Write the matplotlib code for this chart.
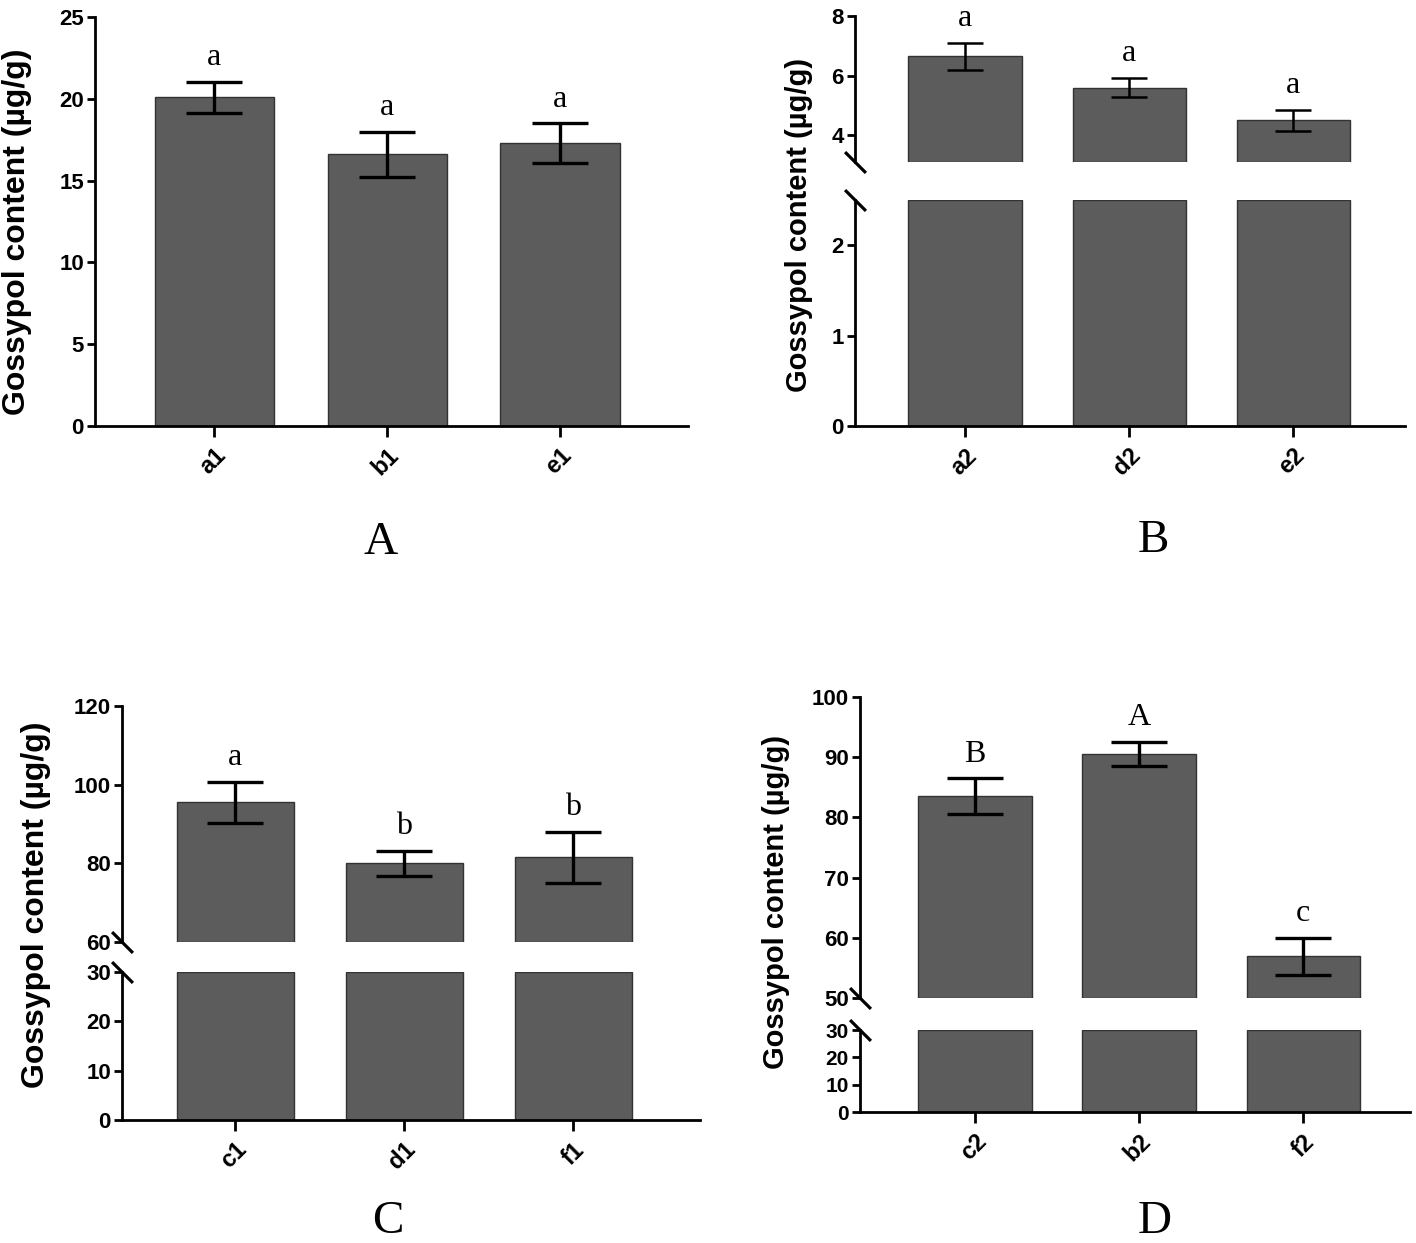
import matplotlib
matplotlib.use("Agg")
import matplotlib.pyplot as plt
import numpy as np

W, H = 1416, 1243

# ---------------- data ----------------
cats_A = ["a1", "b1", "e1"]
mean_A = [20.1, 16.6, 17.3]
sd_A = [0.95, 1.4, 1.2]
let_A = ["a", "a", "a"]

cats_B = ["a2", "d2", "e2"]
mean_B = [6.65, 5.6, 4.5]
sd_B = [0.45, 0.33, 0.35]
let_B = ["a", "a", "a"]

cats_C = ["c1", "d1", "f1"]
mean_C = [95.5, 80.0, 81.5]
sd_C = [5.2, 3.2, 6.5]
let_C = ["a", "b", "b"]

cats_D = ["c2", "b2", "f2"]
mean_D = [83.5, 90.6, 56.9]
sd_D = [3.0, 2.0, 3.1]
let_D = ["B", "A", "c"]

BAR = "#5c5c5c"
EDGE = "#333333"
SANS = "Liberation Sans"
SERIF = "Liberation Serif"

fig = plt.figure(figsize=(W / 100, H / 100), dpi=100)


def add_ax(x0, x1, y0, y1):
    return fig.add_axes([x0 / W, 1 - y1 / H, (x1 - x0) / W, (y1 - y0) / H])


def style(ax, bottom=True, ysize=16):
    for s in ["top", "right"]:
        ax.spines[s].set_visible(False)
    ax.spines["left"].set_linewidth(2.0)
    ax.spines["bottom"].set_linewidth(2.0)
    if not bottom:
        ax.spines["bottom"].set_visible(False)
        ax.tick_params(axis="x", bottom=False, labelbottom=False)
    ax.tick_params(axis="y", direction="out", length=6, width=2.0, pad=2,
                   labelsize=ysize)
    ax.tick_params(axis="x", direction="out", length=8, width=2.0, pad=5)
    for lab in ax.get_yticklabels():
        lab.set_fontfamily(SANS)
        lab.set_fontweight("bold")
    ax.set_facecolor("none")


def slash(ax, ypos):
    ax.plot([0], [ypos], transform=ax.transAxes, marker=[(-1, 1), (1, -1)],
            markersize=15, markeredgewidth=2.3, color="k", clip_on=False,
            linestyle="none")


def xlabels(ax, cats):
    x = np.arange(len(cats))
    ax.set_xticks(x)
    ax.set_xticklabels(cats, rotation=45, ha="right", rotation_mode="anchor",
                       fontfamily=SANS, fontweight="bold", fontsize=17)


def draw_errs(ax, means, sds, letters, cap, lw, fs):
    x = np.arange(len(means))
    ax.errorbar(x, means, yerr=sds, fmt="none", ecolor="k", elinewidth=lw,
                capsize=cap, capthick=lw, zorder=3)
    for xi, m, s, l in zip(x, means, sds, letters):
        ax.annotate(l, (xi, m + s), xytext=(0, 7), textcoords="offset points",
                    ha="center", va="bottom", fontfamily=SERIF, fontsize=fs)


def ylabel(xpix, ypix, fs):
    fig.text(xpix / W, 1 - ypix / H, "Gossypol content (µg/g)", rotation=90,
             ha="center", va="center", fontfamily=SANS, fontweight="bold",
             fontsize=fs)


def title(xpix, ypix, t):
    fig.text(xpix / W, 1 - ypix / H, t, ha="center", va="center",
             fontfamily=SERIF, fontsize=34)


WIDTH = 0.69

# ---------------- Panel A ----------------
ax = add_ax(95, 688, 17, 426)
x = np.arange(len(cats_A))
ax.bar(x, mean_A, width=WIDTH, color=BAR, edgecolor=EDGE, linewidth=1)
ax.set_ylim(0, 25)
ax.set_yticks([0, 5, 10, 15, 20, 25])
ax.set_xlim(-0.69, 2.74)
xlabels(ax, cats_A)
style(ax)
draw_errs(ax, mean_A, sd_A, let_A, cap=20, lw=2.4, fs=23)
ylabel(17, 232, 23)
title(381, 543, "A")

# ---------------- Panel B ----------------
lo_B, hi_B = 3.1, 2.5
axu = add_ax(855, 1405, 16, 162)
axl = add_ax(855, 1405, 200, 426)
x = np.arange(len(cats_B))
axu.bar(x, np.array(mean_B) - lo_B, bottom=lo_B, width=WIDTH, color=BAR,
        edgecolor=EDGE, linewidth=1)
axl.bar(x, [hi_B] * len(x), width=WIDTH, color=BAR, edgecolor=EDGE, linewidth=1)
axu.set_ylim(lo_B, 8)
axu.set_yticks([4, 6, 8])
axl.set_ylim(0, hi_B)
axl.set_yticks([0, 1, 2])
for a in (axu, axl):
    a.set_xlim(-0.67, 2.68)
xlabels(axl, cats_B)
style(axu, bottom=False)
style(axl)
draw_errs(axu, mean_B, sd_B, let_B, cap=13, lw=1.8, fs=23)
slash(axu, 0)
slash(axl, 1)
ylabel(799, 225, 21)
title(1153, 541, "B")

# ---------------- Panel C ----------------
axu = add_ax(122, 700, 706, 942)
axl = add_ax(122, 700, 972, 1120)
x = np.arange(len(cats_C))
axu.bar(x, np.array(mean_C) - 60, bottom=60, width=WIDTH, color=BAR,
        edgecolor=EDGE, linewidth=1)
axl.bar(x, [30] * len(x), width=WIDTH, color=BAR, edgecolor=EDGE, linewidth=1)
axu.set_ylim(60, 120)
axu.set_yticks([60, 80, 100, 120])
axl.set_ylim(0, 30)
axl.set_yticks([0, 10, 20, 30])
for a in (axu, axl):
    a.set_xlim(-0.67, 2.75)
xlabels(axl, cats_C)
style(axu, bottom=False)
style(axl)
draw_errs(axu, mean_C, sd_C, let_C, cap=20, lw=2.4, fs=23)
slash(axu, 0)
slash(axl, 1)
ylabel(36, 905, 23)
title(388, 1222, "C")

# ---------------- Panel D ----------------
axu = add_ax(860, 1410, 697, 998)
axl = add_ax(860, 1410, 1030, 1112)
x = np.arange(len(cats_D))
axu.bar(x, np.array(mean_D) - 50, bottom=50, width=WIDTH, color=BAR,
        edgecolor=EDGE, linewidth=1)
axl.bar(x, [30] * len(x), width=WIDTH, color=BAR, edgecolor=EDGE, linewidth=1)
axu.set_ylim(50, 100)
axu.set_yticks([50, 60, 70, 80, 90, 100])
axl.set_ylim(0, 30)
axl.set_yticks([0, 10, 20, 30])
for a in (axu, axl):
    a.set_xlim(-0.7, 2.65)
xlabels(axl, cats_D)
style(axu, bottom=False)
style(axl, ysize=15)
draw_errs(axu, mean_D, sd_D, let_D, cap=20, lw=2.4, fs=23)
slash(axu, 0)
slash(axl, 1)
ylabel(776, 902, 21)
title(1155, 1222, "D")

fig.savefig("out.png", dpi=100)
